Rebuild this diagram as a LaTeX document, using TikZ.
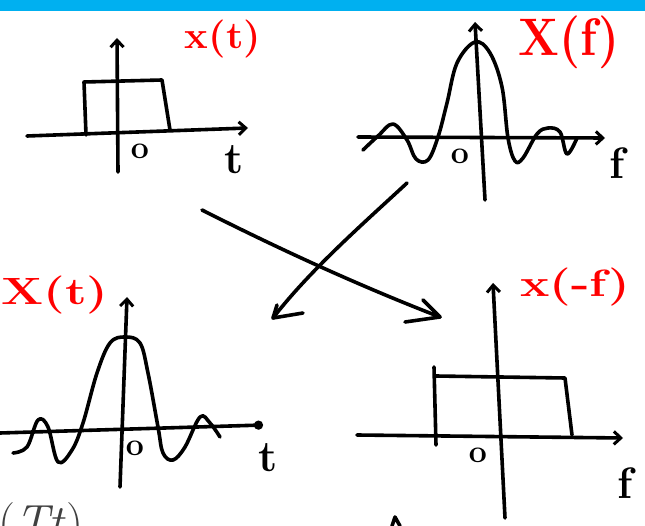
\documentclass[tikz,border=0pt]{standalone}
\usepackage{fontspec}
\usetikzlibrary{arrows.meta}
\definecolor{barblue}{HTML}{00B0F0}
\definecolor{inkred}{HTML}{FF0000}
\definecolor{greytext}{HTML}{404040}
\begin{document}
\begin{tikzpicture}[x=1pt,y=-1pt,
  ink/.style={line width=3.6pt, line cap=round, line join=round},
  axis/.style={ink, -{Straight Barb[length=7pt,width=13pt,line width=3pt]}},
  dotaxis/.style={ink, -{Circle[length=9pt,width=9pt]}},
  lbl/.style={text=inkred, inner sep=0pt, font=\fontsize{38}{38}\selectfont\bfseries},
  bigl/.style={text=inkred, inner sep=0pt, font=\fontsize{48}{48}\selectfont\bfseries},
  ticklbl/.style={inner sep=0pt, font=\fontsize{44}{44}\selectfont\bfseries},
  zerolbl/.style={inner sep=0pt, font=\fontsize{32}{32}\selectfont\bfseries}]
\useasboundingbox (0,0) rectangle (645,526);
\fill[barblue] (0,0) rectangle (645,11);

% ---- plot 1: rectangle x(t)
\coordinate (h1s) at (27,136); \coordinate (h1e) at (248,128);
\coordinate (v1s) at (118,172); \coordinate (v1e) at (117,38);
\draw[axis] (h1s) -- (h1e);
\draw[axis] (v1s) -- (v1e);
\draw[ink] (86,135) -- (84,82) -- (162,80) -- (170,130);
\node[zerolbl] (z1) at (140,151) {o};
\node[ticklbl] (t1) at (234,160) {t};
\node[lbl] (l1) at (223,39) {\scalebox{1.05}[1]{x(t)}};

% ---- plot 2: sinc X(f)
\coordinate (h2s) at (358,137); \coordinate (h2e) at (605,138);
\coordinate (v2s) at (485,200); \coordinate (v2e) at (475,22);
\draw[axis] (h2s) -- (h2e);
\draw[axis] (v2s) -- (v2e);
\draw[ink] plot[smooth, tension=0.6] coordinates {(363,150) (378,136) (393,124) (407,140) (416,159) (428,160) (438,137) (447,103) (457,63) (475,42) (490,53) (502,87) (508,138) (515,161) (523,158) (537,134) (548,128) (560,132) (567,154) (577,138)};
\node[zerolbl] (z2) at (460,156) {o};
\node[ticklbl] (f2) at (617,163) {f};
\node[bigl] (l2) at (569,42) {\scalebox{1}[1.1]{X(f)}};

% ---- plot 3: sinc X(t)
\coordinate (h3s) at (0,433); \coordinate (h3e) at (263,425);
\coordinate (v3s) at (120,487); \coordinate (v3e) at (127,297);
\draw[dotaxis] (h3s) -- (h3e);
\draw[axis] (v3s) -- (v3e);
\draw[ink] plot[smooth, tension=0.6] coordinates {(13,453) (27,447) (38,420) (48,427) (58,462) (72,450) (83,423) (97,373) (110,343) (125,337) (140,343) (148,373) (158,427) (163,453) (173,460) (185,447) (200,417) (210,423) (220,437)};
\node[zerolbl] (z3) at (135,448) {o};
\node[ticklbl] (t3) at (268,458) {t};
\node[lbl] (l3) at (55,295) {\scalebox{1.3}[1]{X(t)}};

% ---- plot 4: rectangle x(-f)
\coordinate (h4s) at (357,435); \coordinate (h4e) at (623,438);
\coordinate (v4s) at (505,518); \coordinate (v4e) at (493,283);
\draw[axis] (h4s) -- (h4e);
\draw[axis] (v4s) -- (v4e);
\draw[ink] (434,367) -- (436,445);
\draw[ink] (436,376) -- (565,378) -- (572,435);
\node[zerolbl] (z4) at (478,455) {o};
\node[ticklbl] (f4) at (625,483) {f};
\node[lbl] (l4) at (575,287) {\scalebox{1.3}[1]{x(-f)}};

% ---- crossing arrows
\coordinate (a1) at (202,210); \coordinate (a2) at (440,317);
\draw[ink] (a1) .. controls (285,252) and (365,288) .. (a2);
\draw[ink] (423,300) -- (a2) -- (405,322);
\coordinate (b1) at (407,183); \coordinate (b2) at (273,318);
\draw[ink] (b1) .. controls (365,222) and (310,270) .. (b2);
\draw[ink] (277,305) -- (b2) -- (303,313);

% ---- bottom fragments
\draw[ink] (392,526) -- (395,517) -- (400,526);
\node[anchor=base west, inner sep=0pt, text=greytext, font=\fontsize{48}{48}\selectfont] (tt) at (-2,538) {(\textit{Tt})};
\end{tikzpicture}
\end{document}
